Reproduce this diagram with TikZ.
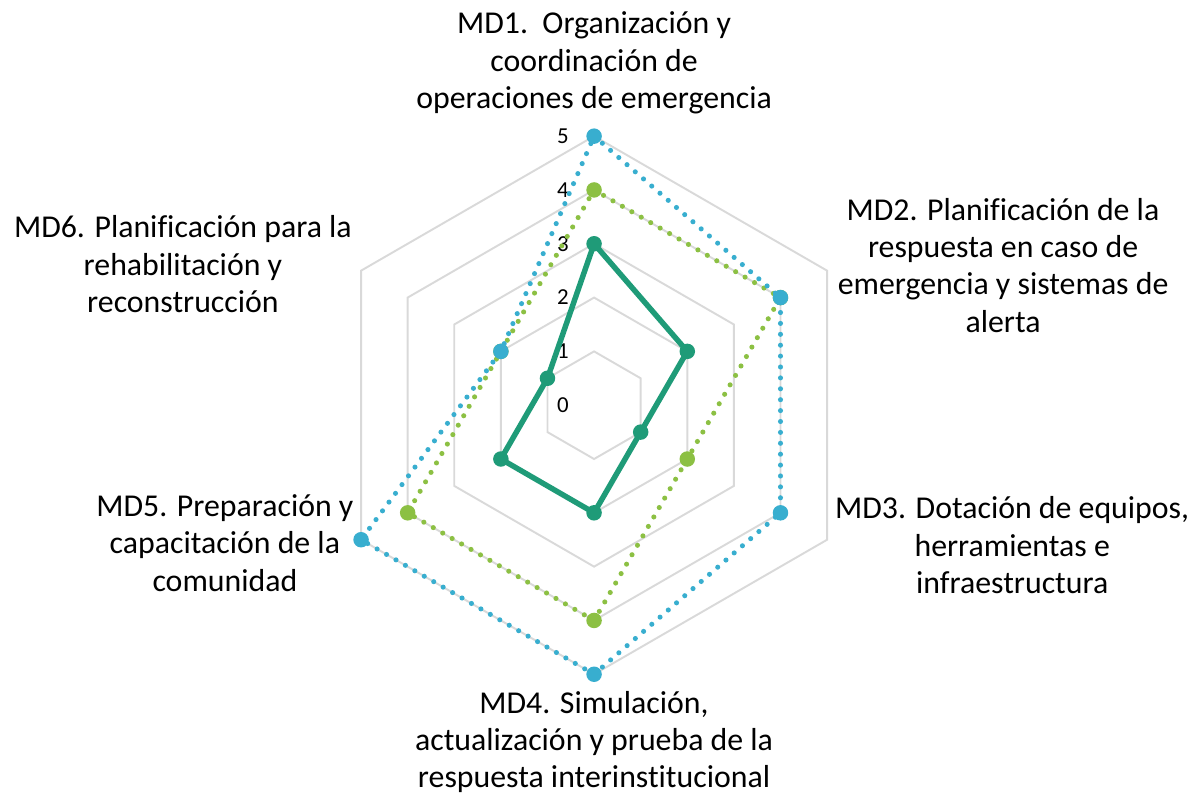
\documentclass[tikz,border=0pt]{standalone}
\usepackage{fontspec}
\setmainfont{Carlito}[Ligatures=NoCommon]
\definecolor{gridgray}{HTML}{D9D9D9}
\definecolor{darkgreen}{HTML}{1F9B78}
\definecolor{lightgreen}{HTML}{8CC043}
\definecolor{skyblue}{HTML}{38AECF}
\begin{document}
\begin{tikzpicture}[x=1.076cm,y=1.076cm,
    grid line/.style={draw=gridgray,line width=1.1pt},
    md label/.style={align=center,font=\fontsize{18.1}{21.3}\selectfont},
    tick label/.style={font=\fontsize{13}{15}\selectfont},
    dot line/.style={line width=2.9pt,line cap=round,dash pattern=on 0pt off 6.2pt},
    marker/.style={circle,fill,inner sep=0pt,minimum size=0.31cm}]
        \useasboundingbox (-11.04,-7.27) rectangle (11.13,7.53);
        %grid
          \foreach \r in {1,...,5}
            \draw[grid line] (90:\r) -- (30:\r) -- (-30:\r) -- (-90:\r) -- (210:\r) -- (150:\r) -- cycle;
          \foreach \r in {0,...,5}
            \node[tick label] (t\r) at (-0.58,\r) {\r};
        %axis labels
          \node[md label] (md1) at (0,6.36) {MD1.\ \ Organización y\\coordinación de\\operaciones de emergencia};
          \node[md label] (md2) at (7.60,2.60) {MD2. Planificación de la\\respuesta en caso de\\emergencia y sistemas de\\alerta};
          \node[md label] (md3) at (7.77,-2.60) {MD3. Dotación de equipos,\\herramientas e\\infraestructura};
          \node[md label] (md4) at (0,-6.26) {MD4. Simulación,\\actualización y prueba de la\\respuesta interinstitucional};
          \node[md label] (md5) at (-6.86,-2.56) {MD5. Preparación y\\capacitación de la\\comunidad};
          \node[md label] (md6) at (-7.64,2.62) {MD6. Planificación para la\\rehabilitación y\\reconstrucción};
        %series points
          \coordinate (a1) at (90:3);  \coordinate (a2) at (30:2);  \coordinate (a3) at (-30:1);
          \coordinate (a4) at (-90:2); \coordinate (a5) at (210:2); \coordinate (a6) at (150:1);
          \coordinate (b1) at (90:4);  \coordinate (b2) at (30:4);  \coordinate (b3) at (-30:2);
          \coordinate (b4) at (-90:4); \coordinate (b5) at (210:4); \coordinate (b6) at (150:2);
          \coordinate (c1) at (90:5);  \coordinate (c2) at (30:4);  \coordinate (c3) at (-30:4);
          \coordinate (c4) at (-90:5); \coordinate (c5) at (210:5); \coordinate (c6) at (150:2);
        %series lines
          \draw[darkgreen,line width=3.1pt,line join=round] (a1) -- (a2) -- (a3) -- (a4) -- (a5) -- (a6) -- cycle;
          \foreach \i in {1,...,6} \node[marker,darkgreen] (ma\i) at (a\i) {};
          \draw[lightgreen,dot line] (b1) -- (b2) -- (b3) -- (b4) -- (b5) -- (b6) -- cycle;
          \foreach \i in {1,...,6} \node[marker,lightgreen] (mb\i) at (b\i) {};
          \draw[skyblue,dot line] (c1) -- (c2) -- (c3) -- (c4) -- (c5) -- (c6) -- cycle;
          \foreach \i in {1,...,6} \node[marker,skyblue] (mc\i) at (c\i) {};
\end{tikzpicture}
\end{document}
